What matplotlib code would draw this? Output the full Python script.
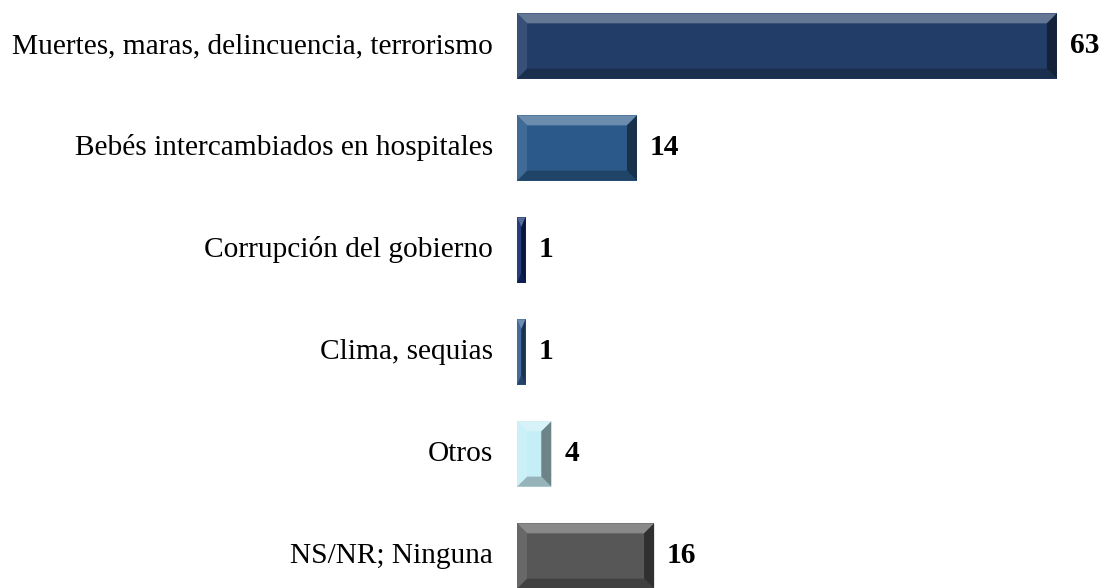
import matplotlib.pyplot as plt
from matplotlib.patches import Polygon
import matplotlib.colors as mcolors

categories = ['Muertes, maras, delincuencia, terrorismo',
              'Bebés intercambiados en hospitales',
              'Corrupción del gobierno',
              'Clima, sequias',
              'Otros',
              'NS/NR; Ninguna']
values = [63, 14, 1, 1, 4, 16]
colors = ['#223D68', '#2B5A8A', '#0E2A6C', '#2F5C8F', '#C6EEF6', '#575757']

plt.rcParams['font.family'] = ['Liberation Serif', 'DejaVu Serif']

fig = plt.figure(figsize=(11.07, 5.88), dpi=100)
ax = fig.add_axes([517 / 1107, 0, 1 - 517 / 1107, 1])

ypos = list(range(len(categories)))
bh = 0.64
ax.barh(ypos, values, height=bh, color=colors, edgecolor='none', zorder=2)

ax.set_xlim(0, 590 / 8.57)
ax.set_ylim(5.314, -0.451)
ax.axis('off')


def shade(c, f):
    r, g, b = mcolors.to_rgb(c)
    if f > 0:
        return (r + (1 - r) * f, g + (1 - g) * f, b + (1 - b) * f)
    return (r * (1 + f), g * (1 + f), b * (1 + f))


# bevel edges, sized in pixels from the bar geometry
px_x = 1 / 8.57
px_y = 1 / 102
for y, v, c in zip(ypos, values, colors):
    x0, x1 = 0, v
    yt, yb = y - bh / 2, y + bh / 2
    bx = min(10 * px_x, v / 2)
    by = min(10 * px_y, bh / 2)
    top = [(x0, yt), (x1, yt), (x1 - bx, yt + by), (x0 + bx, yt + by)]
    bot = [(x0, yb), (x1, yb), (x1 - bx, yb - by), (x0 + bx, yb - by)]
    lft = [(x0, yt), (x0 + bx, yt + by), (x0 + bx, yb - by), (x0, yb)]
    rgt = [(x1, yt), (x1 - bx, yt + by), (x1 - bx, yb - by), (x1, yb)]
    ax.add_patch(Polygon(top, closed=True, color=shade(c, 0.3), lw=0, zorder=3))
    ax.add_patch(Polygon(bot, closed=True, color=shade(c, -0.25), lw=0, zorder=3))
    ax.add_patch(Polygon(lft, closed=True, color=shade(c, 0.1), lw=0, zorder=3))
    ax.add_patch(Polygon(rgt, closed=True, color=shade(c, -0.45), lw=0, zorder=3))

for y, v, lab in zip(ypos, values, categories):
    ax.annotate(lab, (0, y), xytext=(-24, 0), textcoords='offset pixels',
                ha='right', va='center', fontsize=21.2, color='black',
                annotation_clip=False)
    ax.annotate(str(v), (v, y), xytext=(13, 0), textcoords='offset pixels',
                ha='left', va='center', fontsize=21.2, fontweight='bold',
                color='black', annotation_clip=False)

fig.savefig('out.png', dpi=100)
